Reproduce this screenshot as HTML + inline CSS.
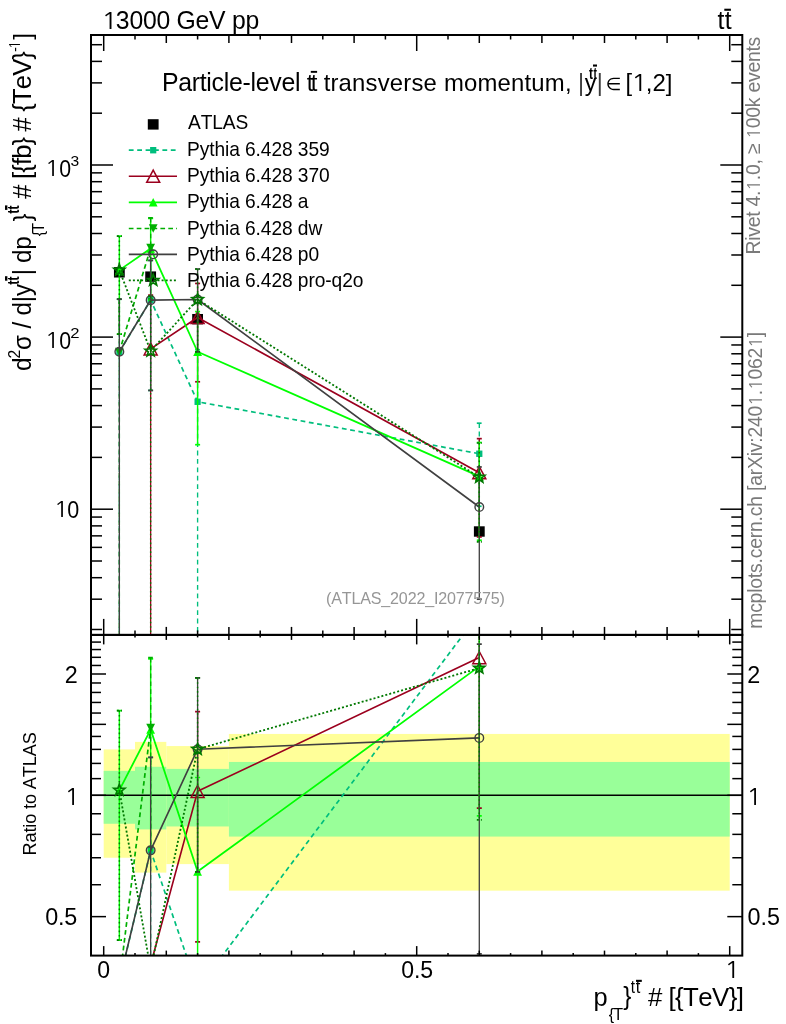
<!DOCTYPE html><html><head><meta charset="utf-8"><style>html,body{margin:0;padding:0;background:#fff;overflow:hidden}svg{display:block;will-change:transform}</style></head><body><svg width="786" height="1024" viewBox="0 0 786 1024" font-family='"Liberation Sans", Arial, Helvetica, sans-serif'>
<rect width="786" height="1024" fill="#fff"/>
<defs><clipPath id="cm"><rect x="91.0" y="35.0" width="651.3" height="599.9"/></clipPath><clipPath id="cr"><rect x="91.0" y="634.9" width="651.3" height="320.70000000000005"/></clipPath></defs>
<g clip-path="url(#cr)">
<rect x="103.7" y="749.4" width="31.3" height="108.34" fill="#ffff99"/>
<rect x="135" y="741.89" width="31.3" height="130.72" fill="#ffff99"/>
<rect x="166.3" y="746.06" width="62.6" height="118.04" fill="#ffff99"/>
<rect x="228.9" y="733.94" width="500.8" height="156.71" fill="#ffff99"/>
<rect x="103.7" y="770.85" width="31.3" height="52.91" fill="#99ff99"/>
<rect x="135" y="766.79" width="31.3" height="62.62" fill="#99ff99"/>
<rect x="166.3" y="768.89" width="62.6" height="57.57" fill="#99ff99"/>
<rect x="228.9" y="761.95" width="500.8" height="74.62" fill="#99ff99"/>
<line x1="91.0" y1="795.32" x2="742.3" y2="795.32" stroke="#000" stroke-width="1.5"/>
</g>
<g clip-path="url(#cm)">
<rect x="113.95" y="267.12" width="10.8" height="10.4" fill="#000"/>
<rect x="145.25" y="271.42" width="10.8" height="10.4" fill="#000"/>
<rect x="192.2" y="313.98" width="10.8" height="10.4" fill="#000"/>
<rect x="473.9" y="526.3" width="10.8" height="10.4" fill="#000"/>
</g>
<g clip-path="url(#cm)">
<line x1="119.35" y1="299.22" x2="119.35" y2="2000" stroke="#00be7d" stroke-width="1.36" fill="none" stroke-dasharray="4.8 3.6"/>
<line x1="116.85" y1="299.22" x2="121.85" y2="299.22" stroke="#00be7d" stroke-width="1.7" fill="none" stroke-dasharray="4.8 3.6"/>
<line x1="150.65" y1="260.41" x2="150.65" y2="390.42" stroke="#00be7d" stroke-width="1.36" fill="none" stroke-dasharray="4.8 3.6"/>
<line x1="148.15" y1="260.41" x2="153.15" y2="260.41" stroke="#00be7d" stroke-width="1.7" fill="none" stroke-dasharray="4.8 3.6"/>
<line x1="148.15" y1="390.42" x2="153.15" y2="390.42" stroke="#00be7d" stroke-width="1.7" fill="none" stroke-dasharray="4.8 3.6"/>
<line x1="197.6" y1="349.78" x2="197.6" y2="2000" stroke="#00be7d" stroke-width="1.36" fill="none" stroke-dasharray="4.8 3.6"/>
<line x1="195.1" y1="349.78" x2="200.1" y2="349.78" stroke="#00be7d" stroke-width="1.7" fill="none" stroke-dasharray="4.8 3.6"/>
<line x1="479.3" y1="423.2" x2="479.3" y2="506.27" stroke="#00be7d" stroke-width="1.36" fill="none" stroke-dasharray="4.8 3.6"/>
<line x1="476.8" y1="423.2" x2="481.8" y2="423.2" stroke="#00be7d" stroke-width="1.7" fill="none" stroke-dasharray="4.8 3.6"/>
<line x1="476.8" y1="506.27" x2="481.8" y2="506.27" stroke="#00be7d" stroke-width="1.7" fill="none" stroke-dasharray="4.8 3.6"/>
<polyline points="119.35,351.93 150.65,300.13 197.6,401.76 479.3,453.75" stroke="#00be7d" stroke-width="1.7" fill="none" stroke-dasharray="4.8 3.6" stroke-linejoin="round"/>
<rect x="116.25" y="348.73" width="6.2" height="6.4" fill="#00be7d"/>
<rect x="147.55" y="296.93" width="6.2" height="6.4" fill="#00be7d"/>
<rect x="194.5" y="398.56" width="6.2" height="6.4" fill="#00be7d"/>
<rect x="476.2" y="450.55" width="6.2" height="6.4" fill="#00be7d"/>
<line x1="150.65" y1="295.1" x2="150.65" y2="2000" stroke="#9b001e" stroke-width="1.32" fill="none"/>
<line x1="148.15" y1="295.1" x2="153.15" y2="295.1" stroke="#9b001e" stroke-width="1.7" fill="none"/>
<line x1="197.6" y1="283.45" x2="197.6" y2="381.78" stroke="#9b001e" stroke-width="1.32" fill="none"/>
<line x1="195.1" y1="283.45" x2="200.1" y2="283.45" stroke="#9b001e" stroke-width="1.7" fill="none"/>
<line x1="195.1" y1="381.78" x2="200.1" y2="381.78" stroke="#9b001e" stroke-width="1.7" fill="none"/>
<line x1="479.3" y1="438.65" x2="479.3" y2="536.93" stroke="#9b001e" stroke-width="1.32" fill="none"/>
<line x1="476.8" y1="438.65" x2="481.8" y2="438.65" stroke="#9b001e" stroke-width="1.7" fill="none"/>
<line x1="476.8" y1="536.93" x2="481.8" y2="536.93" stroke="#9b001e" stroke-width="1.7" fill="none"/>
<polyline points="150.65,348.9 197.6,317.49 479.3,472.68" stroke="#9b001e" stroke-width="1.65" fill="none" stroke-linejoin="round"/>
<polygon points="150.65,342.8 157.15,355 144.15,355" fill="none" stroke="#9b001e" stroke-width="1.5"/>
<polygon points="197.6,311.39 204.1,323.59 191.1,323.59" fill="none" stroke="#9b001e" stroke-width="1.5"/>
<polygon points="479.3,466.58 485.8,478.78 472.8,478.78" fill="none" stroke="#9b001e" stroke-width="1.5"/>
<line x1="119.35" y1="236.15" x2="119.35" y2="334.17" stroke="#00ff00" stroke-width="1.44" fill="none"/>
<line x1="116.85" y1="236.15" x2="121.85" y2="236.15" stroke="#00ff00" stroke-width="1.7" fill="none"/>
<line x1="116.85" y1="334.17" x2="121.85" y2="334.17" stroke="#00ff00" stroke-width="1.7" fill="none"/>
<line x1="150.65" y1="218.32" x2="150.65" y2="300.13" stroke="#00ff00" stroke-width="1.44" fill="none"/>
<line x1="148.15" y1="218.32" x2="153.15" y2="218.32" stroke="#00ff00" stroke-width="1.7" fill="none"/>
<line x1="148.15" y1="300.13" x2="153.15" y2="300.13" stroke="#00ff00" stroke-width="1.7" fill="none"/>
<line x1="197.6" y1="311.58" x2="197.6" y2="444.71" stroke="#00ff00" stroke-width="1.44" fill="none"/>
<line x1="195.1" y1="311.58" x2="200.1" y2="311.58" stroke="#00ff00" stroke-width="1.7" fill="none"/>
<line x1="195.1" y1="444.71" x2="200.1" y2="444.71" stroke="#00ff00" stroke-width="1.7" fill="none"/>
<line x1="479.3" y1="442.53" x2="479.3" y2="540.26" stroke="#00ff00" stroke-width="1.44" fill="none"/>
<line x1="476.8" y1="442.53" x2="481.8" y2="442.53" stroke="#00ff00" stroke-width="1.7" fill="none"/>
<line x1="476.8" y1="540.26" x2="481.8" y2="540.26" stroke="#00ff00" stroke-width="1.7" fill="none"/>
<polyline points="119.35,270.12 150.65,248.55 197.6,351.75 479.3,476.44" stroke="#00ff00" stroke-width="1.8" fill="none" stroke-linejoin="round"/>
<polygon points="119.35,265.92 123.75,274.32 114.95,274.32" fill="#00ff00"/>
<polygon points="150.65,244.35 155.05,252.75 146.25,252.75" fill="#00ff00"/>
<polygon points="197.6,347.55 202,355.95 193.2,355.95" fill="#00ff00"/>
<polygon points="479.3,472.24 483.7,480.64 474.9,480.64" fill="#00ff00"/>
<line x1="119.35" y1="299.22" x2="119.35" y2="2000" stroke="#00af00" stroke-width="1.36" fill="none" stroke-dasharray="4.7 3.2"/>
<line x1="116.85" y1="299.22" x2="121.85" y2="299.22" stroke="#00af00" stroke-width="1.7" fill="none" stroke-dasharray="4.7 3.2"/>
<line x1="150.65" y1="217.86" x2="150.65" y2="298.77" stroke="#00af00" stroke-width="1.36" fill="none" stroke-dasharray="4.7 3.2"/>
<line x1="148.15" y1="217.86" x2="153.15" y2="217.86" stroke="#00af00" stroke-width="1.7" fill="none" stroke-dasharray="4.7 3.2"/>
<line x1="148.15" y1="298.77" x2="153.15" y2="298.77" stroke="#00af00" stroke-width="1.7" fill="none" stroke-dasharray="4.7 3.2"/>
<polyline points="119.35,351.93 150.65,247.86" stroke="#00af00" stroke-width="1.7" fill="none" stroke-dasharray="4.7 3.2" stroke-linejoin="round"/>
<polygon points="119.35,356.13 123.75,347.73 114.95,347.73" fill="#00af00"/>
<polygon points="150.65,252.06 155.05,243.66 146.25,243.66" fill="#00af00"/>
<line x1="119.35" y1="299.13" x2="119.35" y2="2000" stroke="#404040" stroke-width="1.32" fill="none"/>
<line x1="116.85" y1="299.13" x2="121.85" y2="299.13" stroke="#404040" stroke-width="1.7" fill="none"/>
<line x1="150.65" y1="260.41" x2="150.65" y2="390.42" stroke="#404040" stroke-width="1.32" fill="none"/>
<line x1="148.15" y1="260.41" x2="153.15" y2="260.41" stroke="#404040" stroke-width="1.7" fill="none"/>
<line x1="148.15" y1="390.42" x2="153.15" y2="390.42" stroke="#404040" stroke-width="1.7" fill="none"/>
<line x1="197.6" y1="269" x2="197.6" y2="351.84" stroke="#404040" stroke-width="1.32" fill="none"/>
<line x1="195.1" y1="269" x2="200.1" y2="269" stroke="#404040" stroke-width="1.7" fill="none"/>
<line x1="195.1" y1="351.84" x2="200.1" y2="351.84" stroke="#404040" stroke-width="1.7" fill="none"/>
<line x1="479.3" y1="466.95" x2="479.3" y2="599.19" stroke="#404040" stroke-width="1.32" fill="none"/>
<line x1="476.8" y1="466.95" x2="481.8" y2="466.95" stroke="#404040" stroke-width="1.7" fill="none"/>
<line x1="476.8" y1="599.19" x2="481.8" y2="599.19" stroke="#404040" stroke-width="1.7" fill="none"/>
<polyline points="119.35,351.75 150.65,300.13 197.6,299.49 479.3,506.99" stroke="#404040" stroke-width="1.65" fill="none" stroke-linejoin="round"/>
<circle cx="119.35" cy="351.75" r="4.3" fill="none" stroke="#404040" stroke-width="1.4"/>
<circle cx="150.65" cy="300.13" r="4.3" fill="none" stroke="#404040" stroke-width="1.4"/>
<circle cx="197.6" cy="299.49" r="4.3" fill="none" stroke="#404040" stroke-width="1.4"/>
<circle cx="479.3" cy="506.99" r="4.3" fill="none" stroke="#404040" stroke-width="1.4"/>
<line x1="119.35" y1="236.15" x2="119.35" y2="334.17" stroke="#007800" stroke-width="1.44" fill="none" stroke-dasharray="1.6 2.8"/>
<line x1="116.85" y1="236.15" x2="121.85" y2="236.15" stroke="#007800" stroke-width="1.7" fill="none" stroke-dasharray="2 2.1"/>
<line x1="116.85" y1="334.17" x2="121.85" y2="334.17" stroke="#007800" stroke-width="1.7" fill="none" stroke-dasharray="2 2.1"/>
<line x1="150.65" y1="296.13" x2="150.65" y2="2000" stroke="#007800" stroke-width="1.44" fill="none" stroke-dasharray="1.6 2.8"/>
<line x1="148.15" y1="296.13" x2="153.15" y2="296.13" stroke="#007800" stroke-width="1.7" fill="none" stroke-dasharray="2 2.1"/>
<line x1="197.6" y1="269" x2="197.6" y2="351.84" stroke="#007800" stroke-width="1.44" fill="none" stroke-dasharray="1.6 2.8"/>
<line x1="195.1" y1="269" x2="200.1" y2="269" stroke="#007800" stroke-width="1.7" fill="none" stroke-dasharray="2 2.1"/>
<line x1="195.1" y1="351.84" x2="200.1" y2="351.84" stroke="#007800" stroke-width="1.7" fill="none" stroke-dasharray="2 2.1"/>
<line x1="479.3" y1="442.99" x2="479.3" y2="541.97" stroke="#007800" stroke-width="1.44" fill="none" stroke-dasharray="1.6 2.8"/>
<line x1="476.8" y1="442.99" x2="481.8" y2="442.99" stroke="#007800" stroke-width="1.7" fill="none" stroke-dasharray="2 2.1"/>
<line x1="476.8" y1="541.97" x2="481.8" y2="541.97" stroke="#007800" stroke-width="1.7" fill="none" stroke-dasharray="2 2.1"/>
<polyline points="119.35,270.12 150.65,351.03 197.6,299.49 479.3,477.17" stroke="#007800" stroke-width="1.8" fill="none" stroke-dasharray="2 2.1" stroke-linejoin="round"/>
<polygon points="119.35,264.22 120.82,268.1 124.96,268.3 121.73,270.9 122.82,274.9 119.35,272.62 115.88,274.9 116.97,270.9 113.74,268.3 117.88,268.1" fill="none" stroke="#007800" stroke-width="1.7" stroke-linejoin="miter" stroke-miterlimit="3"/>
<polygon points="150.65,345.13 152.12,349 156.26,349.2 153.03,351.8 154.12,355.8 150.65,353.53 147.18,355.8 148.27,351.8 145.04,349.2 149.18,349" fill="none" stroke="#007800" stroke-width="1.7" stroke-linejoin="miter" stroke-miterlimit="3"/>
<polygon points="197.6,293.59 199.07,297.47 203.21,297.67 199.98,300.26 201.07,304.26 197.6,301.99 194.13,304.26 195.22,300.26 191.99,297.67 196.13,297.47" fill="none" stroke="#007800" stroke-width="1.7" stroke-linejoin="miter" stroke-miterlimit="3"/>
<polygon points="479.3,471.27 480.77,475.15 484.91,475.35 481.68,477.94 482.77,481.94 479.3,479.67 475.83,481.94 476.92,477.94 473.69,475.35 477.83,475.15" fill="none" stroke="#007800" stroke-width="1.7" stroke-linejoin="miter" stroke-miterlimit="3"/>
</g>
<g clip-path="url(#cr)">
<line x1="150.65" y1="757.35" x2="150.65" y2="1061.78" stroke="#00be7d" stroke-width="1.36" fill="none" stroke-dasharray="4.8 3.6"/>
<line x1="148.15" y1="757.35" x2="153.15" y2="757.35" stroke="#00be7d" stroke-width="1.7" fill="none" stroke-dasharray="4.8 3.6"/>
<line x1="148.15" y1="1061.78" x2="153.15" y2="1061.78" stroke="#00be7d" stroke-width="1.7" fill="none" stroke-dasharray="4.8 3.6"/>
<polyline points="119.35,981.74 150.65,850.35 197.6,988.7 479.3,613.23" stroke="#00be7d" stroke-width="1.7" fill="none" stroke-dasharray="4.8 3.6" stroke-linejoin="round"/>
<rect x="116.25" y="978.54" width="6.2" height="6.4" fill="#00be7d"/>
<rect x="147.55" y="847.15" width="6.2" height="6.4" fill="#00be7d"/>
<rect x="194.5" y="985.5" width="6.2" height="6.4" fill="#00be7d"/>
<rect x="476.2" y="610.03" width="6.2" height="6.4" fill="#00be7d"/>
<line x1="197.6" y1="711.65" x2="197.6" y2="941.92" stroke="#9b001e" stroke-width="1.32" fill="none"/>
<line x1="195.1" y1="711.65" x2="200.1" y2="711.65" stroke="#9b001e" stroke-width="1.7" fill="none"/>
<line x1="195.1" y1="941.92" x2="200.1" y2="941.92" stroke="#9b001e" stroke-width="1.7" fill="none"/>
<line x1="479.3" y1="577.88" x2="479.3" y2="808.03" stroke="#9b001e" stroke-width="1.32" fill="none"/>
<line x1="476.8" y1="577.88" x2="481.8" y2="577.88" stroke="#9b001e" stroke-width="1.7" fill="none"/>
<line x1="476.8" y1="808.03" x2="481.8" y2="808.03" stroke="#9b001e" stroke-width="1.7" fill="none"/>
<polyline points="150.65,964.56 197.6,791.37 479.3,657.58" stroke="#9b001e" stroke-width="1.65" fill="none" stroke-linejoin="round"/>
<polygon points="150.65,958.46 157.15,970.66 144.15,970.66" fill="none" stroke="#9b001e" stroke-width="1.5"/>
<polygon points="197.6,785.27 204.1,797.47 191.1,797.47" fill="none" stroke="#9b001e" stroke-width="1.5"/>
<polygon points="479.3,651.48 485.8,663.68 472.8,663.68" fill="none" stroke="#9b001e" stroke-width="1.5"/>
<line x1="119.35" y1="710.61" x2="119.35" y2="940.14" stroke="#00ff00" stroke-width="1.44" fill="none"/>
<line x1="116.85" y1="710.61" x2="121.85" y2="710.61" stroke="#00ff00" stroke-width="1.7" fill="none"/>
<line x1="116.85" y1="940.14" x2="121.85" y2="940.14" stroke="#00ff00" stroke-width="1.7" fill="none"/>
<line x1="150.65" y1="658.78" x2="150.65" y2="850.35" stroke="#00ff00" stroke-width="1.44" fill="none"/>
<line x1="148.15" y1="658.78" x2="153.15" y2="658.78" stroke="#00ff00" stroke-width="1.7" fill="none"/>
<line x1="148.15" y1="850.35" x2="153.15" y2="850.35" stroke="#00ff00" stroke-width="1.7" fill="none"/>
<line x1="197.6" y1="777.52" x2="197.6" y2="1089.26" stroke="#00ff00" stroke-width="1.44" fill="none"/>
<line x1="195.1" y1="777.52" x2="200.1" y2="777.52" stroke="#00ff00" stroke-width="1.7" fill="none"/>
<line x1="195.1" y1="1089.26" x2="200.1" y2="1089.26" stroke="#00ff00" stroke-width="1.7" fill="none"/>
<line x1="479.3" y1="586.97" x2="479.3" y2="815.81" stroke="#00ff00" stroke-width="1.44" fill="none"/>
<line x1="476.8" y1="586.97" x2="481.8" y2="586.97" stroke="#00ff00" stroke-width="1.7" fill="none"/>
<line x1="476.8" y1="815.81" x2="481.8" y2="815.81" stroke="#00ff00" stroke-width="1.7" fill="none"/>
<polyline points="119.35,790.17 150.65,729.57 197.6,871.59 479.3,666.38" stroke="#00ff00" stroke-width="1.8" fill="none" stroke-linejoin="round"/>
<polygon points="119.35,785.97 123.75,794.37 114.95,794.37" fill="#00ff00"/>
<polygon points="150.65,725.37 155.05,733.77 146.25,733.77" fill="#00ff00"/>
<polygon points="197.6,867.39 202,875.79 193.2,875.79" fill="#00ff00"/>
<polygon points="479.3,662.18 483.7,670.58 474.9,670.58" fill="#00ff00"/>
<line x1="150.65" y1="657.72" x2="150.65" y2="847.18" stroke="#00af00" stroke-width="1.36" fill="none" stroke-dasharray="4.7 3.2"/>
<line x1="148.15" y1="657.72" x2="153.15" y2="657.72" stroke="#00af00" stroke-width="1.7" fill="none" stroke-dasharray="4.7 3.2"/>
<line x1="148.15" y1="847.18" x2="153.15" y2="847.18" stroke="#00af00" stroke-width="1.7" fill="none" stroke-dasharray="4.7 3.2"/>
<polyline points="119.35,981.74 150.65,727.97" stroke="#00af00" stroke-width="1.7" fill="none" stroke-dasharray="4.7 3.2" stroke-linejoin="round"/>
<polygon points="119.35,985.94 123.75,977.54 114.95,977.54" fill="#00af00"/>
<polygon points="150.65,732.17 155.05,723.77 146.25,723.77" fill="#00af00"/>
<line x1="150.65" y1="757.35" x2="150.65" y2="1061.78" stroke="#404040" stroke-width="1.32" fill="none"/>
<line x1="148.15" y1="757.35" x2="153.15" y2="757.35" stroke="#404040" stroke-width="1.7" fill="none"/>
<line x1="148.15" y1="1061.78" x2="153.15" y2="1061.78" stroke="#404040" stroke-width="1.7" fill="none"/>
<line x1="197.6" y1="677.83" x2="197.6" y2="871.81" stroke="#404040" stroke-width="1.32" fill="none"/>
<line x1="195.1" y1="677.83" x2="200.1" y2="677.83" stroke="#404040" stroke-width="1.7" fill="none"/>
<line x1="195.1" y1="871.81" x2="200.1" y2="871.81" stroke="#404040" stroke-width="1.7" fill="none"/>
<line x1="479.3" y1="644.15" x2="479.3" y2="953.81" stroke="#404040" stroke-width="1.32" fill="none"/>
<line x1="476.8" y1="644.15" x2="481.8" y2="644.15" stroke="#404040" stroke-width="1.7" fill="none"/>
<line x1="476.8" y1="953.81" x2="481.8" y2="953.81" stroke="#404040" stroke-width="1.7" fill="none"/>
<polyline points="119.35,981.31 150.65,850.35 197.6,749.22 479.3,737.91" stroke="#404040" stroke-width="1.65" fill="none" stroke-linejoin="round"/>
<circle cx="119.35" cy="981.31" r="4.3" fill="none" stroke="#404040" stroke-width="1.4"/>
<circle cx="150.65" cy="850.35" r="4.3" fill="none" stroke="#404040" stroke-width="1.4"/>
<circle cx="197.6" cy="749.22" r="4.3" fill="none" stroke="#404040" stroke-width="1.4"/>
<circle cx="479.3" cy="737.91" r="4.3" fill="none" stroke="#404040" stroke-width="1.4"/>
<line x1="119.35" y1="710.61" x2="119.35" y2="940.14" stroke="#007800" stroke-width="1.44" fill="none" stroke-dasharray="1.6 2.8"/>
<line x1="116.85" y1="710.61" x2="121.85" y2="710.61" stroke="#007800" stroke-width="1.7" fill="none" stroke-dasharray="2 2.1"/>
<line x1="116.85" y1="940.14" x2="121.85" y2="940.14" stroke="#007800" stroke-width="1.7" fill="none" stroke-dasharray="2 2.1"/>
<line x1="197.6" y1="677.83" x2="197.6" y2="871.81" stroke="#007800" stroke-width="1.44" fill="none" stroke-dasharray="1.6 2.8"/>
<line x1="195.1" y1="677.83" x2="200.1" y2="677.83" stroke="#007800" stroke-width="1.7" fill="none" stroke-dasharray="2 2.1"/>
<line x1="195.1" y1="871.81" x2="200.1" y2="871.81" stroke="#007800" stroke-width="1.7" fill="none" stroke-dasharray="2 2.1"/>
<line x1="479.3" y1="588.05" x2="479.3" y2="819.84" stroke="#007800" stroke-width="1.44" fill="none" stroke-dasharray="1.6 2.8"/>
<line x1="476.8" y1="588.05" x2="481.8" y2="588.05" stroke="#007800" stroke-width="1.7" fill="none" stroke-dasharray="2 2.1"/>
<line x1="476.8" y1="819.84" x2="481.8" y2="819.84" stroke="#007800" stroke-width="1.7" fill="none" stroke-dasharray="2 2.1"/>
<polyline points="119.35,790.17 150.65,969.54 197.6,749.22 479.3,668.09" stroke="#007800" stroke-width="1.8" fill="none" stroke-dasharray="2 2.1" stroke-linejoin="round"/>
<polygon points="119.35,784.27 120.82,788.15 124.96,788.34 121.73,790.94 122.82,794.94 119.35,792.67 115.88,794.94 116.97,790.94 113.74,788.34 117.88,788.15" fill="none" stroke="#007800" stroke-width="1.7" stroke-linejoin="miter" stroke-miterlimit="3"/>
<polygon points="150.65,963.64 152.12,967.52 156.26,967.72 153.03,970.32 154.12,974.32 150.65,972.04 147.18,974.32 148.27,970.32 145.04,967.72 149.18,967.52" fill="none" stroke="#007800" stroke-width="1.7" stroke-linejoin="miter" stroke-miterlimit="3"/>
<polygon points="197.6,743.32 199.07,747.19 203.21,747.39 199.98,749.99 201.07,753.99 197.6,751.72 194.13,753.99 195.22,749.99 191.99,747.39 196.13,747.19" fill="none" stroke="#007800" stroke-width="1.7" stroke-linejoin="miter" stroke-miterlimit="3"/>
<polygon points="479.3,662.19 480.77,666.06 484.91,666.26 481.68,668.86 482.77,672.86 479.3,670.59 475.83,672.86 476.92,668.86 473.69,666.26 477.83,666.06" fill="none" stroke="#007800" stroke-width="1.7" stroke-linejoin="miter" stroke-miterlimit="3"/>
</g>
<line x1="103.7" y1="35" x2="103.7" y2="51" stroke="#000" stroke-width="1.5"/><line x1="103.7" y1="634.9" x2="103.7" y2="618.9" stroke="#000" stroke-width="1.5"/><line x1="103.7" y1="634.9" x2="103.7" y2="644.4" stroke="#000" stroke-width="1.5"/><line x1="103.7" y1="955.6" x2="103.7" y2="946.1" stroke="#000" stroke-width="1.5"/><line x1="135" y1="35" x2="135" y2="39.5" stroke="#000" stroke-width="1.5"/><line x1="135" y1="634.9" x2="135" y2="630.4" stroke="#000" stroke-width="1.5"/><line x1="135" y1="634.9" x2="135" y2="637.4" stroke="#000" stroke-width="1.5"/><line x1="135" y1="955.6" x2="135" y2="953.1" stroke="#000" stroke-width="1.5"/><line x1="166.3" y1="35" x2="166.3" y2="43" stroke="#000" stroke-width="1.5"/><line x1="166.3" y1="634.9" x2="166.3" y2="626.9" stroke="#000" stroke-width="1.5"/><line x1="166.3" y1="634.9" x2="166.3" y2="639.9" stroke="#000" stroke-width="1.5"/><line x1="166.3" y1="955.6" x2="166.3" y2="950.6" stroke="#000" stroke-width="1.5"/><line x1="197.6" y1="35" x2="197.6" y2="39.5" stroke="#000" stroke-width="1.5"/><line x1="197.6" y1="634.9" x2="197.6" y2="630.4" stroke="#000" stroke-width="1.5"/><line x1="197.6" y1="634.9" x2="197.6" y2="637.4" stroke="#000" stroke-width="1.5"/><line x1="197.6" y1="955.6" x2="197.6" y2="953.1" stroke="#000" stroke-width="1.5"/><line x1="228.9" y1="35" x2="228.9" y2="43" stroke="#000" stroke-width="1.5"/><line x1="228.9" y1="634.9" x2="228.9" y2="626.9" stroke="#000" stroke-width="1.5"/><line x1="228.9" y1="634.9" x2="228.9" y2="639.9" stroke="#000" stroke-width="1.5"/><line x1="228.9" y1="955.6" x2="228.9" y2="950.6" stroke="#000" stroke-width="1.5"/><line x1="260.2" y1="35" x2="260.2" y2="39.5" stroke="#000" stroke-width="1.5"/><line x1="260.2" y1="634.9" x2="260.2" y2="630.4" stroke="#000" stroke-width="1.5"/><line x1="260.2" y1="634.9" x2="260.2" y2="637.4" stroke="#000" stroke-width="1.5"/><line x1="260.2" y1="955.6" x2="260.2" y2="953.1" stroke="#000" stroke-width="1.5"/><line x1="291.5" y1="35" x2="291.5" y2="43" stroke="#000" stroke-width="1.5"/><line x1="291.5" y1="634.9" x2="291.5" y2="626.9" stroke="#000" stroke-width="1.5"/><line x1="291.5" y1="634.9" x2="291.5" y2="639.9" stroke="#000" stroke-width="1.5"/><line x1="291.5" y1="955.6" x2="291.5" y2="950.6" stroke="#000" stroke-width="1.5"/><line x1="322.8" y1="35" x2="322.8" y2="39.5" stroke="#000" stroke-width="1.5"/><line x1="322.8" y1="634.9" x2="322.8" y2="630.4" stroke="#000" stroke-width="1.5"/><line x1="322.8" y1="634.9" x2="322.8" y2="637.4" stroke="#000" stroke-width="1.5"/><line x1="322.8" y1="955.6" x2="322.8" y2="953.1" stroke="#000" stroke-width="1.5"/><line x1="354.1" y1="35" x2="354.1" y2="43" stroke="#000" stroke-width="1.5"/><line x1="354.1" y1="634.9" x2="354.1" y2="626.9" stroke="#000" stroke-width="1.5"/><line x1="354.1" y1="634.9" x2="354.1" y2="639.9" stroke="#000" stroke-width="1.5"/><line x1="354.1" y1="955.6" x2="354.1" y2="950.6" stroke="#000" stroke-width="1.5"/><line x1="385.4" y1="35" x2="385.4" y2="39.5" stroke="#000" stroke-width="1.5"/><line x1="385.4" y1="634.9" x2="385.4" y2="630.4" stroke="#000" stroke-width="1.5"/><line x1="385.4" y1="634.9" x2="385.4" y2="637.4" stroke="#000" stroke-width="1.5"/><line x1="385.4" y1="955.6" x2="385.4" y2="953.1" stroke="#000" stroke-width="1.5"/><line x1="416.7" y1="35" x2="416.7" y2="51" stroke="#000" stroke-width="1.5"/><line x1="416.7" y1="634.9" x2="416.7" y2="618.9" stroke="#000" stroke-width="1.5"/><line x1="416.7" y1="634.9" x2="416.7" y2="644.4" stroke="#000" stroke-width="1.5"/><line x1="416.7" y1="955.6" x2="416.7" y2="946.1" stroke="#000" stroke-width="1.5"/><line x1="448" y1="35" x2="448" y2="39.5" stroke="#000" stroke-width="1.5"/><line x1="448" y1="634.9" x2="448" y2="630.4" stroke="#000" stroke-width="1.5"/><line x1="448" y1="634.9" x2="448" y2="637.4" stroke="#000" stroke-width="1.5"/><line x1="448" y1="955.6" x2="448" y2="953.1" stroke="#000" stroke-width="1.5"/><line x1="479.3" y1="35" x2="479.3" y2="43" stroke="#000" stroke-width="1.5"/><line x1="479.3" y1="634.9" x2="479.3" y2="626.9" stroke="#000" stroke-width="1.5"/><line x1="479.3" y1="634.9" x2="479.3" y2="639.9" stroke="#000" stroke-width="1.5"/><line x1="479.3" y1="955.6" x2="479.3" y2="950.6" stroke="#000" stroke-width="1.5"/><line x1="510.6" y1="35" x2="510.6" y2="39.5" stroke="#000" stroke-width="1.5"/><line x1="510.6" y1="634.9" x2="510.6" y2="630.4" stroke="#000" stroke-width="1.5"/><line x1="510.6" y1="634.9" x2="510.6" y2="637.4" stroke="#000" stroke-width="1.5"/><line x1="510.6" y1="955.6" x2="510.6" y2="953.1" stroke="#000" stroke-width="1.5"/><line x1="541.9" y1="35" x2="541.9" y2="43" stroke="#000" stroke-width="1.5"/><line x1="541.9" y1="634.9" x2="541.9" y2="626.9" stroke="#000" stroke-width="1.5"/><line x1="541.9" y1="634.9" x2="541.9" y2="639.9" stroke="#000" stroke-width="1.5"/><line x1="541.9" y1="955.6" x2="541.9" y2="950.6" stroke="#000" stroke-width="1.5"/><line x1="573.2" y1="35" x2="573.2" y2="39.5" stroke="#000" stroke-width="1.5"/><line x1="573.2" y1="634.9" x2="573.2" y2="630.4" stroke="#000" stroke-width="1.5"/><line x1="573.2" y1="634.9" x2="573.2" y2="637.4" stroke="#000" stroke-width="1.5"/><line x1="573.2" y1="955.6" x2="573.2" y2="953.1" stroke="#000" stroke-width="1.5"/><line x1="604.5" y1="35" x2="604.5" y2="43" stroke="#000" stroke-width="1.5"/><line x1="604.5" y1="634.9" x2="604.5" y2="626.9" stroke="#000" stroke-width="1.5"/><line x1="604.5" y1="634.9" x2="604.5" y2="639.9" stroke="#000" stroke-width="1.5"/><line x1="604.5" y1="955.6" x2="604.5" y2="950.6" stroke="#000" stroke-width="1.5"/><line x1="635.8" y1="35" x2="635.8" y2="39.5" stroke="#000" stroke-width="1.5"/><line x1="635.8" y1="634.9" x2="635.8" y2="630.4" stroke="#000" stroke-width="1.5"/><line x1="635.8" y1="634.9" x2="635.8" y2="637.4" stroke="#000" stroke-width="1.5"/><line x1="635.8" y1="955.6" x2="635.8" y2="953.1" stroke="#000" stroke-width="1.5"/><line x1="667.1" y1="35" x2="667.1" y2="43" stroke="#000" stroke-width="1.5"/><line x1="667.1" y1="634.9" x2="667.1" y2="626.9" stroke="#000" stroke-width="1.5"/><line x1="667.1" y1="634.9" x2="667.1" y2="639.9" stroke="#000" stroke-width="1.5"/><line x1="667.1" y1="955.6" x2="667.1" y2="950.6" stroke="#000" stroke-width="1.5"/><line x1="698.4" y1="35" x2="698.4" y2="39.5" stroke="#000" stroke-width="1.5"/><line x1="698.4" y1="634.9" x2="698.4" y2="630.4" stroke="#000" stroke-width="1.5"/><line x1="698.4" y1="634.9" x2="698.4" y2="637.4" stroke="#000" stroke-width="1.5"/><line x1="698.4" y1="955.6" x2="698.4" y2="953.1" stroke="#000" stroke-width="1.5"/><line x1="729.7" y1="35" x2="729.7" y2="51" stroke="#000" stroke-width="1.5"/><line x1="729.7" y1="634.9" x2="729.7" y2="618.9" stroke="#000" stroke-width="1.5"/><line x1="729.7" y1="634.9" x2="729.7" y2="644.4" stroke="#000" stroke-width="1.5"/><line x1="729.7" y1="955.6" x2="729.7" y2="946.1" stroke="#000" stroke-width="1.5"/><line x1="91" y1="629.49" x2="102" y2="629.49" stroke="#000" stroke-width="1.5"/><line x1="742.3" y1="629.49" x2="731.3" y2="629.49" stroke="#000" stroke-width="1.5"/><line x1="91" y1="599.19" x2="102" y2="599.19" stroke="#000" stroke-width="1.5"/><line x1="742.3" y1="599.19" x2="731.3" y2="599.19" stroke="#000" stroke-width="1.5"/><line x1="91" y1="577.69" x2="102" y2="577.69" stroke="#000" stroke-width="1.5"/><line x1="742.3" y1="577.69" x2="731.3" y2="577.69" stroke="#000" stroke-width="1.5"/><line x1="91" y1="561.01" x2="102" y2="561.01" stroke="#000" stroke-width="1.5"/><line x1="742.3" y1="561.01" x2="731.3" y2="561.01" stroke="#000" stroke-width="1.5"/><line x1="91" y1="547.38" x2="102" y2="547.38" stroke="#000" stroke-width="1.5"/><line x1="742.3" y1="547.38" x2="731.3" y2="547.38" stroke="#000" stroke-width="1.5"/><line x1="91" y1="535.86" x2="102" y2="535.86" stroke="#000" stroke-width="1.5"/><line x1="742.3" y1="535.86" x2="731.3" y2="535.86" stroke="#000" stroke-width="1.5"/><line x1="91" y1="525.88" x2="102" y2="525.88" stroke="#000" stroke-width="1.5"/><line x1="742.3" y1="525.88" x2="731.3" y2="525.88" stroke="#000" stroke-width="1.5"/><line x1="91" y1="517.07" x2="102" y2="517.07" stroke="#000" stroke-width="1.5"/><line x1="742.3" y1="517.07" x2="731.3" y2="517.07" stroke="#000" stroke-width="1.5"/><line x1="91" y1="509.2" x2="113" y2="509.2" stroke="#000" stroke-width="1.5"/><line x1="742.3" y1="509.2" x2="720.3" y2="509.2" stroke="#000" stroke-width="1.5"/><line x1="91" y1="457.39" x2="102" y2="457.39" stroke="#000" stroke-width="1.5"/><line x1="742.3" y1="457.39" x2="731.3" y2="457.39" stroke="#000" stroke-width="1.5"/><line x1="91" y1="427.09" x2="102" y2="427.09" stroke="#000" stroke-width="1.5"/><line x1="742.3" y1="427.09" x2="731.3" y2="427.09" stroke="#000" stroke-width="1.5"/><line x1="91" y1="405.59" x2="102" y2="405.59" stroke="#000" stroke-width="1.5"/><line x1="742.3" y1="405.59" x2="731.3" y2="405.59" stroke="#000" stroke-width="1.5"/><line x1="91" y1="388.91" x2="102" y2="388.91" stroke="#000" stroke-width="1.5"/><line x1="742.3" y1="388.91" x2="731.3" y2="388.91" stroke="#000" stroke-width="1.5"/><line x1="91" y1="375.28" x2="102" y2="375.28" stroke="#000" stroke-width="1.5"/><line x1="742.3" y1="375.28" x2="731.3" y2="375.28" stroke="#000" stroke-width="1.5"/><line x1="91" y1="363.76" x2="102" y2="363.76" stroke="#000" stroke-width="1.5"/><line x1="742.3" y1="363.76" x2="731.3" y2="363.76" stroke="#000" stroke-width="1.5"/><line x1="91" y1="353.78" x2="102" y2="353.78" stroke="#000" stroke-width="1.5"/><line x1="742.3" y1="353.78" x2="731.3" y2="353.78" stroke="#000" stroke-width="1.5"/><line x1="91" y1="344.97" x2="102" y2="344.97" stroke="#000" stroke-width="1.5"/><line x1="742.3" y1="344.97" x2="731.3" y2="344.97" stroke="#000" stroke-width="1.5"/><line x1="91" y1="337.1" x2="113" y2="337.1" stroke="#000" stroke-width="1.5"/><line x1="742.3" y1="337.1" x2="720.3" y2="337.1" stroke="#000" stroke-width="1.5"/><line x1="91" y1="285.29" x2="102" y2="285.29" stroke="#000" stroke-width="1.5"/><line x1="742.3" y1="285.29" x2="731.3" y2="285.29" stroke="#000" stroke-width="1.5"/><line x1="91" y1="254.99" x2="102" y2="254.99" stroke="#000" stroke-width="1.5"/><line x1="742.3" y1="254.99" x2="731.3" y2="254.99" stroke="#000" stroke-width="1.5"/><line x1="91" y1="233.49" x2="102" y2="233.49" stroke="#000" stroke-width="1.5"/><line x1="742.3" y1="233.49" x2="731.3" y2="233.49" stroke="#000" stroke-width="1.5"/><line x1="91" y1="216.81" x2="102" y2="216.81" stroke="#000" stroke-width="1.5"/><line x1="742.3" y1="216.81" x2="731.3" y2="216.81" stroke="#000" stroke-width="1.5"/><line x1="91" y1="203.18" x2="102" y2="203.18" stroke="#000" stroke-width="1.5"/><line x1="742.3" y1="203.18" x2="731.3" y2="203.18" stroke="#000" stroke-width="1.5"/><line x1="91" y1="191.66" x2="102" y2="191.66" stroke="#000" stroke-width="1.5"/><line x1="742.3" y1="191.66" x2="731.3" y2="191.66" stroke="#000" stroke-width="1.5"/><line x1="91" y1="181.68" x2="102" y2="181.68" stroke="#000" stroke-width="1.5"/><line x1="742.3" y1="181.68" x2="731.3" y2="181.68" stroke="#000" stroke-width="1.5"/><line x1="91" y1="172.87" x2="102" y2="172.87" stroke="#000" stroke-width="1.5"/><line x1="742.3" y1="172.87" x2="731.3" y2="172.87" stroke="#000" stroke-width="1.5"/><line x1="91" y1="165" x2="113" y2="165" stroke="#000" stroke-width="1.5"/><line x1="742.3" y1="165" x2="720.3" y2="165" stroke="#000" stroke-width="1.5"/><line x1="91" y1="113.19" x2="102" y2="113.19" stroke="#000" stroke-width="1.5"/><line x1="742.3" y1="113.19" x2="731.3" y2="113.19" stroke="#000" stroke-width="1.5"/><line x1="91" y1="82.89" x2="102" y2="82.89" stroke="#000" stroke-width="1.5"/><line x1="742.3" y1="82.89" x2="731.3" y2="82.89" stroke="#000" stroke-width="1.5"/><line x1="91" y1="61.39" x2="102" y2="61.39" stroke="#000" stroke-width="1.5"/><line x1="742.3" y1="61.39" x2="731.3" y2="61.39" stroke="#000" stroke-width="1.5"/><line x1="91" y1="44.71" x2="102" y2="44.71" stroke="#000" stroke-width="1.5"/><line x1="742.3" y1="44.71" x2="731.3" y2="44.71" stroke="#000" stroke-width="1.5"/><line x1="91" y1="916.63" x2="106" y2="916.63" stroke="#000" stroke-width="1.5"/><line x1="742.3" y1="916.63" x2="727.3" y2="916.63" stroke="#000" stroke-width="1.5"/><line x1="91" y1="884.72" x2="101" y2="884.72" stroke="#000" stroke-width="1.5"/><line x1="742.3" y1="884.72" x2="732.3" y2="884.72" stroke="#000" stroke-width="1.5"/><line x1="91" y1="857.74" x2="101" y2="857.74" stroke="#000" stroke-width="1.5"/><line x1="742.3" y1="857.74" x2="732.3" y2="857.74" stroke="#000" stroke-width="1.5"/><line x1="91" y1="834.37" x2="101" y2="834.37" stroke="#000" stroke-width="1.5"/><line x1="742.3" y1="834.37" x2="732.3" y2="834.37" stroke="#000" stroke-width="1.5"/><line x1="91" y1="813.76" x2="101" y2="813.76" stroke="#000" stroke-width="1.5"/><line x1="742.3" y1="813.76" x2="732.3" y2="813.76" stroke="#000" stroke-width="1.5"/><line x1="91" y1="795.32" x2="106" y2="795.32" stroke="#000" stroke-width="1.5"/><line x1="742.3" y1="795.32" x2="727.3" y2="795.32" stroke="#000" stroke-width="1.5"/><line x1="91" y1="778.63" x2="101" y2="778.63" stroke="#000" stroke-width="1.5"/><line x1="742.3" y1="778.63" x2="732.3" y2="778.63" stroke="#000" stroke-width="1.5"/><line x1="91" y1="763.41" x2="101" y2="763.41" stroke="#000" stroke-width="1.5"/><line x1="742.3" y1="763.41" x2="732.3" y2="763.41" stroke="#000" stroke-width="1.5"/><line x1="91" y1="749.4" x2="101" y2="749.4" stroke="#000" stroke-width="1.5"/><line x1="742.3" y1="749.4" x2="732.3" y2="749.4" stroke="#000" stroke-width="1.5"/><line x1="91" y1="736.43" x2="101" y2="736.43" stroke="#000" stroke-width="1.5"/><line x1="742.3" y1="736.43" x2="732.3" y2="736.43" stroke="#000" stroke-width="1.5"/><line x1="91" y1="724.35" x2="106" y2="724.35" stroke="#000" stroke-width="1.5"/><line x1="742.3" y1="724.35" x2="727.3" y2="724.35" stroke="#000" stroke-width="1.5"/><line x1="91" y1="713.05" x2="101" y2="713.05" stroke="#000" stroke-width="1.5"/><line x1="742.3" y1="713.05" x2="732.3" y2="713.05" stroke="#000" stroke-width="1.5"/><line x1="91" y1="702.44" x2="101" y2="702.44" stroke="#000" stroke-width="1.5"/><line x1="742.3" y1="702.44" x2="732.3" y2="702.44" stroke="#000" stroke-width="1.5"/><line x1="91" y1="692.44" x2="101" y2="692.44" stroke="#000" stroke-width="1.5"/><line x1="742.3" y1="692.44" x2="732.3" y2="692.44" stroke="#000" stroke-width="1.5"/><line x1="91" y1="682.98" x2="101" y2="682.98" stroke="#000" stroke-width="1.5"/><line x1="742.3" y1="682.98" x2="732.3" y2="682.98" stroke="#000" stroke-width="1.5"/><line x1="91" y1="674" x2="106" y2="674" stroke="#000" stroke-width="1.5"/><line x1="742.3" y1="674" x2="727.3" y2="674" stroke="#000" stroke-width="1.5"/><line x1="91" y1="665.46" x2="101" y2="665.46" stroke="#000" stroke-width="1.5"/><line x1="742.3" y1="665.46" x2="732.3" y2="665.46" stroke="#000" stroke-width="1.5"/><line x1="91" y1="657.32" x2="101" y2="657.32" stroke="#000" stroke-width="1.5"/><line x1="742.3" y1="657.32" x2="732.3" y2="657.32" stroke="#000" stroke-width="1.5"/><line x1="91" y1="649.54" x2="101" y2="649.54" stroke="#000" stroke-width="1.5"/><line x1="742.3" y1="649.54" x2="732.3" y2="649.54" stroke="#000" stroke-width="1.5"/><line x1="91" y1="642.09" x2="101" y2="642.09" stroke="#000" stroke-width="1.5"/><line x1="742.3" y1="642.09" x2="732.3" y2="642.09" stroke="#000" stroke-width="1.5"/>
<rect x="91.0" y="35.0" width="651.3" height="599.9" fill="none" stroke="#000" stroke-width="2"/>
<rect x="91.0" y="634.9" width="651.3" height="320.7" fill="none" stroke="#000" stroke-width="2"/>
<rect x="147.8" y="119.2" width="10.8" height="10.4" fill="#000"/>
<line x1="128.8" y1="150.2" x2="177.0" y2="150.2" stroke="#00be7d" stroke-width="1.7" fill="none" stroke-dasharray="4.8 3.6"/>
<rect x="150.1" y="147" width="6.2" height="6.4" fill="#00be7d"/>
<line x1="128.8" y1="176.2" x2="177.0" y2="176.2" stroke="#9b001e" stroke-width="1.65" fill="none"/>
<polygon points="153.2,170.1 159.7,182.3 146.7,182.3" fill="none" stroke="#9b001e" stroke-width="1.5"/>
<line x1="128.8" y1="202.3" x2="177.0" y2="202.3" stroke="#00ff00" stroke-width="1.8" fill="none"/>
<polygon points="153.2,198.1 157.6,206.5 148.8,206.5" fill="#00ff00"/>
<line x1="128.8" y1="228.5" x2="177.0" y2="228.5" stroke="#00af00" stroke-width="1.7" fill="none" stroke-dasharray="4.7 3.2"/>
<polygon points="153.2,232.7 157.6,224.3 148.8,224.3" fill="#00af00"/>
<line x1="128.8" y1="254.3" x2="177.0" y2="254.3" stroke="#404040" stroke-width="1.65" fill="none"/>
<circle cx="153.2" cy="254.3" r="4.3" fill="none" stroke="#404040" stroke-width="1.4"/>
<line x1="128.8" y1="280.3" x2="177.0" y2="280.3" stroke="#007800" stroke-width="1.8" fill="none" stroke-dasharray="2 2.1"/>
<polygon points="153.2,274.4 154.67,278.28 158.81,278.48 155.58,281.07 156.67,285.07 153.2,282.8 149.73,285.07 150.82,281.07 147.59,278.48 151.73,278.28" fill="none" stroke="#007800" stroke-width="1.7" stroke-linejoin="miter" stroke-miterlimit="3"/>
<text transform="translate(187.96,129.4) scale(1,1.03)" font-size="19.19" letter-spacing="-0.09" style="font-kerning:none">ATLAS</text>
<text transform="translate(187.03,155.7) scale(1,1.03)" font-size="19.19" letter-spacing="-0.09" style="font-kerning:none">Pythia 6.428 359</text>
<text transform="translate(187.03,182) scale(1,1.03)" font-size="19.19" letter-spacing="-0.09" style="font-kerning:none">Pythia 6.428 370</text>
<text transform="translate(187.03,208.3) scale(1,1.03)" font-size="19.19" letter-spacing="-0.09" style="font-kerning:none">Pythia 6.428 a</text>
<text transform="translate(187.03,234.6) scale(1,1.03)" font-size="19.19" letter-spacing="-0.09" style="font-kerning:none">Pythia 6.428 dw</text>
<text transform="translate(187.03,260.9) scale(1,1.03)" font-size="19.19" letter-spacing="-0.09" style="font-kerning:none">Pythia 6.428 p0</text>
<text transform="translate(187.03,287.2) scale(1,1.03)" font-size="19.19" letter-spacing="-0.09" style="font-kerning:none">Pythia 6.428 pro-q2o</text>
<text transform="translate(101.26,28.83) scale(1,0.86)" font-size="27.75" fill="#000" font-family='"NanumGothic", "Liberation Sans", sans-serif' style="font-kerning:none">1</text>
<text transform="translate(115.86,28.9) scale(1,1.03)" font-size="24.75" letter-spacing="-0.24" fill="#000" font-family='"Liberation Sans", Arial, Helvetica, sans-serif' style="font-kerning:none">3000 GeV pp</text>
<text transform="translate(717.62,29.4) scale(1,1.06)" font-size="24.81" fill="#000" font-family='"Liberation Sans", Arial, Helvetica, sans-serif' style="font-kerning:none">t</text>
<text transform="translate(724.72,29.4) scale(1,1.06)" font-size="24.81" fill="#000" font-family='"Liberation Sans", Arial, Helvetica, sans-serif' style="font-kerning:none">t</text>
<rect x="724.3" y="8.7" width="6.6" height="2.1" fill="#000"/>
<text transform="translate(161.96,90.9) scale(1,1.03)" font-size="24.84" letter-spacing="-0.28" fill="#000" font-family='"Liberation Sans", Arial, Helvetica, sans-serif' style="font-kerning:none">Particle-level</text>
<text transform="translate(306.64,90.9) scale(1,1.03)" font-size="23.88" fill="#000" font-family='"Liberation Sans", Arial, Helvetica, sans-serif' style="font-kerning:none">t</text>
<text transform="translate(310.64,90.9) scale(1,1.03)" font-size="23.88" fill="#000" font-family='"Liberation Sans", Arial, Helvetica, sans-serif' style="font-kerning:none">t</text>
<rect x="310.8" y="70.9" width="6.3" height="1.9" fill="#000"/>
<text transform="translate(323.64,90.9) scale(1,1.03)" font-size="23.88" letter-spacing="0.2" fill="#000" font-family='"Liberation Sans", Arial, Helvetica, sans-serif' style="font-kerning:none">transverse momentum,</text>
<text transform="translate(578.02,90.6) scale(1,1.03)" font-size="23.3" fill="#3c3c3c" font-family='"Liberation Sans", Arial, Helvetica, sans-serif' style="font-kerning:none">|</text>
<text transform="translate(584.64,90.9) scale(1,1.03)" font-size="23.15" fill="#000" font-family='"Liberation Sans", Arial, Helvetica, sans-serif' style="font-kerning:none">y</text>
<text transform="translate(588.95,78.61) scale(1,1.33)" font-size="11.99" font-weight="bold" fill="#000" font-family='"Liberation Sans", Arial, Helvetica, sans-serif' style="font-kerning:none">t</text>
<text transform="translate(593.47,78.61) scale(1,1.54)" font-size="10.37" font-weight="bold" fill="#000" font-family='"Liberation Sans", Arial, Helvetica, sans-serif' style="font-kerning:none">t</text>
<rect x="593.0" y="64.5" width="4.0" height="2.1" fill="#000"/>
<text transform="translate(596.82,90.6) scale(1,1.03)" font-size="23.3" fill="#3c3c3c" font-family='"Liberation Sans", Arial, Helvetica, sans-serif' style="font-kerning:none">|</text>
<text transform="translate(605.56,90.3) scale(1,0.97)" font-size="18" fill="#000" font-family='"DejaVu Sans", sans-serif' style="font-kerning:none">∈</text>
<text transform="translate(625.61,90.9) scale(1,1.03)" font-size="23.72" fill="#000" font-family='"Liberation Sans", Arial, Helvetica, sans-serif' style="font-kerning:none">[</text>
<text transform="translate(631.06,90.63) scale(1,0.81)" font-size="27.75" fill="#000" font-family='"NanumGothic", "Liberation Sans", sans-serif' style="font-kerning:none">1</text>
<text transform="translate(645.84,90.9) scale(1,1.03)" font-size="24.05" letter-spacing="-0.08" fill="#000" font-family='"Liberation Sans", Arial, Helvetica, sans-serif' style="font-kerning:none">,2]</text>
<text transform="translate(44.47,175.64) scale(1,0.83)" font-size="25.55" fill="#000" font-family='"NanumGothic", "Liberation Sans", sans-serif' style="font-kerning:none">1</text>
<text transform="translate(59.17,176.77) scale(1,1.1)" font-size="21.34" fill="#000" font-family='"Liberation Sans", Arial, Helvetica, sans-serif' style="font-kerning:none">0</text>
<text transform="translate(70.61,166.15) scale(1,0.99)" font-size="15.61" fill="#000" font-family='"Liberation Sans", Arial, Helvetica, sans-serif' style="font-kerning:none">3</text>
<text transform="translate(44.47,347.64) scale(1,0.82)" font-size="25.55" fill="#000" font-family='"NanumGothic", "Liberation Sans", sans-serif' style="font-kerning:none">1</text>
<text transform="translate(59.17,348.77) scale(1,1.11)" font-size="21.34" fill="#000" font-family='"Liberation Sans", Arial, Helvetica, sans-serif' style="font-kerning:none">0</text>
<text transform="translate(70.36,337.8) scale(1,0.9)" font-size="16.68" fill="#000" font-family='"Liberation Sans", Arial, Helvetica, sans-serif' style="font-kerning:none">2</text>
<text transform="translate(53.47,516.74) scale(1,0.83)" font-size="25.55" fill="#000" font-family='"NanumGothic", "Liberation Sans", sans-serif' style="font-kerning:none">1</text>
<text transform="translate(67.16,517.97) scale(1,1.11)" font-size="21.55" fill="#000" font-family='"Liberation Sans", Arial, Helvetica, sans-serif' style="font-kerning:none">0</text>
<text transform="translate(64.65,682.9) scale(1,1.03)" font-size="23.36" fill="#000" font-family='"Liberation Sans", Arial, Helvetica, sans-serif' style="font-kerning:none">2</text>
<text transform="translate(747.33,682.9) scale(1,1.03)" font-size="23.36" fill="#000" font-family='"Liberation Sans", Arial, Helvetica, sans-serif' style="font-kerning:none">2</text>
<text transform="translate(45.28,925.4) scale(1,1.03)" font-size="23.36" letter-spacing="-0.24" fill="#000" font-family='"Liberation Sans", Arial, Helvetica, sans-serif' style="font-kerning:none">0.5</text>
<text transform="translate(747.59,925.4) scale(1,1.03)" font-size="23.36" fill="#000" font-family='"Liberation Sans", Arial, Helvetica, sans-serif' style="font-kerning:none">0.5</text>
<text transform="translate(64.25,804.83) scale(1,0.86)" font-size="26.43" fill="#000" font-family='"NanumGothic", "Liberation Sans", sans-serif' style="font-kerning:none">1</text>
<text transform="translate(746.25,804.83) scale(1,0.86)" font-size="26.43" fill="#000" font-family='"NanumGothic", "Liberation Sans", sans-serif' style="font-kerning:none">1</text>
<text transform="translate(724.18,977.83) scale(1,0.84)" font-size="26.87" fill="#000" font-family='"NanumGothic", "Liberation Sans", sans-serif' style="font-kerning:none">1</text>
<text transform="translate(97.3,978) scale(1,1.03)" font-size="23.08" fill="#000" font-family='"Liberation Sans", Arial, Helvetica, sans-serif' style="font-kerning:none">0</text>
<text transform="translate(401.24,978) scale(1,1.03)" font-size="23.08" letter-spacing="-0.05" fill="#000" font-family='"Liberation Sans", Arial, Helvetica, sans-serif' style="font-kerning:none">0.5</text>
<text transform="translate(593.56,1005.9) scale(1,1.03)" font-size="25.46" fill="#000" font-family='"Liberation Sans", Arial, Helvetica, sans-serif' style="font-kerning:none">p</text>
<text transform="translate(608.63,1019.8) scale(1,1.0)" font-size="16.15" letter-spacing="-0.82" fill="#000" font-family='"Liberation Sans", Arial, Helvetica, sans-serif' style="font-kerning:none">{T</text>
<text transform="translate(623.3,1005.3) scale(1,1.03)" font-size="24.3" fill="#000" font-family='"Liberation Sans", Arial, Helvetica, sans-serif' style="font-kerning:none">}</text>
<text transform="translate(630.87,993.26) scale(1,1.15)" font-size="15.27" fill="#000" font-family='"Liberation Sans", Arial, Helvetica, sans-serif' style="font-kerning:none">t</text>
<text transform="translate(635.75,993.26) scale(1,1.07)" font-size="16.45" fill="#000" font-family='"Liberation Sans", Arial, Helvetica, sans-serif' style="font-kerning:none">t</text>
<rect x="636.0" y="979.8" width="5.8" height="2.1" fill="#000"/>
<text transform="translate(647.99,1005.9) scale(1,1.03)" font-size="25.82" letter-spacing="-0.56" fill="#000" font-family='"Liberation Sans", Arial, Helvetica, sans-serif' style="font-kerning:none"># [{TeV}]</text>
<text transform="translate(31.3,370.1) rotate(-90) scale(1,1.03)" x="-1.03" font-size="24.52" fill="#000" font-family='"Liberation Sans", Arial, Helvetica, sans-serif' style="font-kerning:none">d</text>
<text transform="translate(19.9,357.6) rotate(-90) scale(1,1.03)" x="-0.79" font-size="15.71" fill="#000" font-family='"Liberation Sans", Arial, Helvetica, sans-serif' style="font-kerning:none">2</text>
<text transform="translate(31.3,348.9) rotate(-90) scale(1,1.03)" x="-1.02" font-size="24.25" letter-spacing="-0.19" fill="#000" font-family='"Liberation Sans", Arial, Helvetica, sans-serif' style="font-kerning:none">σ / d|y</text>
<text transform="translate(18.66,284.6) rotate(-90) scale(1,1.28)" x="-0.15" font-size="12.31" font-weight="bold" fill="#000" font-family='"Liberation Sans", Arial, Helvetica, sans-serif' style="font-kerning:none">t</text>
<text transform="translate(18.66,280.6) rotate(-90) scale(1,1.21)" x="-0.16" font-size="12.96" font-weight="bold" fill="#000" font-family='"Liberation Sans", Arial, Helvetica, sans-serif' style="font-kerning:none">t</text>
<rect x="5.0" y="276.2" width="2.4" height="4.5" fill="#000"/>
<text transform="translate(31.3,273.2) rotate(-90) scale(1,1.03)" x="-2.17" font-size="24.25" letter-spacing="-0.28" fill="#000" font-family='"Liberation Sans", Arial, Helvetica, sans-serif' style="font-kerning:none">| dp</text>
<text transform="translate(43.9,235.9) rotate(-90) scale(1,1.0)" x="-0.26" font-size="15.73" letter-spacing="-1.54" fill="#000" font-family='"Liberation Sans", Arial, Helvetica, sans-serif' style="font-kerning:none">{T</text>
<text transform="translate(31,221) rotate(-90) scale(1,1.03)" x="-0.39" font-size="23.7" fill="#000" font-family='"Liberation Sans", Arial, Helvetica, sans-serif' style="font-kerning:none">}</text>
<text transform="translate(18.66,213.6) rotate(-90) scale(1,1.28)" x="-0.15" font-size="12.31" font-weight="bold" fill="#000" font-family='"Liberation Sans", Arial, Helvetica, sans-serif' style="font-kerning:none">t</text>
<text transform="translate(18.66,209.6) rotate(-90) scale(1,1.21)" x="-0.16" font-size="12.96" font-weight="bold" fill="#000" font-family='"Liberation Sans", Arial, Helvetica, sans-serif' style="font-kerning:none">t</text>
<rect x="5.0" y="205.4" width="2.4" height="4.5" fill="#000"/>
<text transform="translate(31.3,198.6) rotate(-90) scale(1,1.03)" x="-0.11" font-size="25.54" letter-spacing="-0.81" fill="#000" font-family='"Liberation Sans", Arial, Helvetica, sans-serif' style="font-kerning:none"># [{fb} # {TeV}</text>
<text transform="translate(19.8,51.4) rotate(-90) scale(1,1.03)" x="-0.66" font-size="14.96" letter-spacing="-1.81" fill="#000" font-family='"Liberation Sans", Arial, Helvetica, sans-serif' style="font-kerning:none">-<tspan font-family="NanumGothic, 'Liberation Sans', sans-serif" font-size="13.72">1</tspan></text>
<text transform="translate(31,39.5) rotate(-90) scale(1,1.03)" x="-0.19" font-size="23.7" fill="#000" font-family='"Liberation Sans", Arial, Helvetica, sans-serif' style="font-kerning:none">]</text>
<text transform="translate(35.9,854) rotate(-90) scale(1,1.03)" x="-1.49" font-size="18.2" letter-spacing="-0.16" fill="#000" font-family='"Liberation Sans", Arial, Helvetica, sans-serif' style="font-kerning:none">Ratio to ATLAS</text>
<text transform="translate(759.9,252.9) rotate(-90) scale(1,1.03)" x="-1.6" font-size="19.47" letter-spacing="-0.28" fill="#7a7a7a" font-family='"Liberation Sans", Arial, Helvetica, sans-serif' style="font-kerning:none">Rivet 4.<tspan font-family="NanumGothic, 'Liberation Sans', sans-serif" font-size="17.87">1</tspan>.0, ≥ <tspan font-family="NanumGothic, 'Liberation Sans', sans-serif" font-size="17.87">1</tspan>00k events</text>
<text transform="translate(761.9,627.5) rotate(-90) scale(1,1.03)" x="-1.28" font-size="19.33" letter-spacing="-0.18" fill="#7a7a7a" font-family='"Liberation Sans", Arial, Helvetica, sans-serif' style="font-kerning:none">mcplots.cern.ch [arXiv:240<tspan font-family="NanumGothic, 'Liberation Sans', sans-serif" font-size="17.74">1</tspan>.<tspan font-family="NanumGothic, 'Liberation Sans', sans-serif" font-size="17.74">1</tspan>062<tspan font-family="NanumGothic, 'Liberation Sans', sans-serif" font-size="17.74">1</tspan>]</text>
<text transform="translate(326.1,603.7) scale(1,1.03)" font-size="16.09" letter-spacing="-0.18" fill="#969696" font-family='"Liberation Sans", Arial, Helvetica, sans-serif' style="font-kerning:none">(ATLAS_2022_I2077575)</text>
</svg></body></html>
